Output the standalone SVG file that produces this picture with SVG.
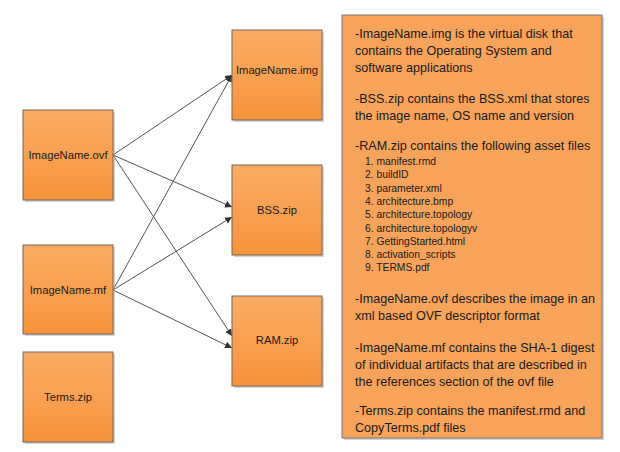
<svg xmlns="http://www.w3.org/2000/svg" width="620" height="452" viewBox="0 0 620 452">
<defs>
<linearGradient id="og" x1="0" y1="0" x2="0" y2="1">
<stop offset="0" stop-color="#F9AC64"/>
<stop offset="1" stop-color="#F7943D"/>
</linearGradient>
<marker id="arr" viewBox="0 0 10 10" refX="10" refY="5" markerWidth="7" markerHeight="7" orient="auto" markerUnits="userSpaceOnUse">
<path d="M0,0 L10,5 L0,10 z" fill="#333"/>
</marker>
</defs>
<style>
.box{fill:url(#og);stroke:#7A6552;stroke-width:1}
.sh{fill:#aaa;opacity:0.5}
.lbl{font-family:"Liberation Sans",Arial,sans-serif;font-size:11.2px;fill:#1a1a1a;text-anchor:middle}
.t{font-family:"Liberation Sans",Arial,sans-serif;font-size:12.6px;fill:#1a1a1a}
.li{font-family:"Liberation Sans",Arial,sans-serif;font-size:10.3px;fill:#1a1a1a}
.c{stroke:#555;stroke-width:1;fill:none;marker-end:url(#arr)}
</style>
<rect width="620" height="452" fill="#fff"/>
<g id="connectors">
<line class="c" x1="113" y1="155" x2="232" y2="75"/>
<line class="c" x1="113" y1="290" x2="232" y2="75"/>
<line class="c" x1="113" y1="155" x2="232" y2="207"/>
<line class="c" x1="113" y1="290" x2="232" y2="217"/>
<line class="c" x1="113" y1="155" x2="232" y2="336"/>
<line class="c" x1="113" y1="290" x2="232" y2="348"/>
</g>
<g id="ovf">
<rect class="sh" x="25" y="112" width="90" height="90"/>
<rect class="box" x="23" y="110" width="90" height="90"/>
<text class="lbl" x="68" y="159">ImageName.ovf</text>
</g>
<g id="mf">
<rect class="sh" x="25" y="247" width="90" height="89"/>
<rect class="box" x="23" y="245" width="90" height="89"/>
<text class="lbl" x="68" y="294">ImageName.mf</text>
</g>
<g id="terms">
<rect class="sh" x="25" y="354" width="90" height="90"/>
<rect class="box" x="23" y="352" width="90" height="90"/>
<text class="lbl" x="68" y="401">Terms.zip</text>
</g>
<g id="img">
<rect class="sh" x="234" y="32" width="90" height="90"/>
<rect class="box" x="232" y="30" width="90" height="90"/>
<text class="lbl" x="277" y="74">ImageName.img</text>
</g>
<g id="bss">
<rect class="sh" x="234" y="167" width="90" height="90"/>
<rect class="box" x="232" y="165" width="90" height="90"/>
<text class="lbl" x="277" y="214">BSS.zip</text>
</g>
<g id="ram">
<rect class="sh" x="234" y="298" width="90" height="90"/>
<rect class="box" x="232" y="296" width="90" height="90"/>
<text class="lbl" x="277" y="344">RAM.zip</text>
</g>
<g id="description">
<rect class="sh" x="344" y="17" width="260" height="423"/>
<rect x="342" y="15" width="260" height="423" fill="#F7A35A" stroke="#777" stroke-width="1"/>
<text class="t" x="355" y="38">-ImageName.img is the virtual disk that</text>
<text class="t" x="355" y="55">contains the Operating System and</text>
<text class="t" x="355" y="72">software applications</text>
<text class="t" x="355" y="103">-BSS.zip contains the BSS.xml that stores</text>
<text class="t" x="355" y="120">the image name, OS name and version</text>
<text class="t" x="355" y="150">-RAM.zip contains the following asset files</text>
<text class="li" x="365" y="165">1. manifest.rmd</text>
<text class="li" x="365" y="178.3">2. buildID</text>
<text class="li" x="365" y="191.6">3. parameter.xml</text>
<text class="li" x="365" y="204.9">4. architecture.bmp</text>
<text class="li" x="365" y="218.2">5. architecture.topology</text>
<text class="li" x="365" y="231.5">6. architecture.topologyv</text>
<text class="li" x="365" y="244.8">7. GettingStarted.html</text>
<text class="li" x="365" y="258.1">8. activation_scripts</text>
<text class="li" x="365" y="271.4">9. TERMS.pdf</text>
<text class="t" x="355" y="303">-ImageName.ovf describes the image in an</text>
<text class="t" x="355" y="320">xml based OVF descriptor format</text>
<text class="t" x="355" y="352">-ImageName.mf contains the SHA-1 digest</text>
<text class="t" x="355" y="369">of individual artifacts that are described in</text>
<text class="t" x="355" y="386">the references section of the ovf file</text>
<text class="t" x="355" y="415">-Terms.zip contains the manifest.rmd and</text>
<text class="t" x="355" y="432">CopyTerms.pdf files</text>
</g>
</svg>
